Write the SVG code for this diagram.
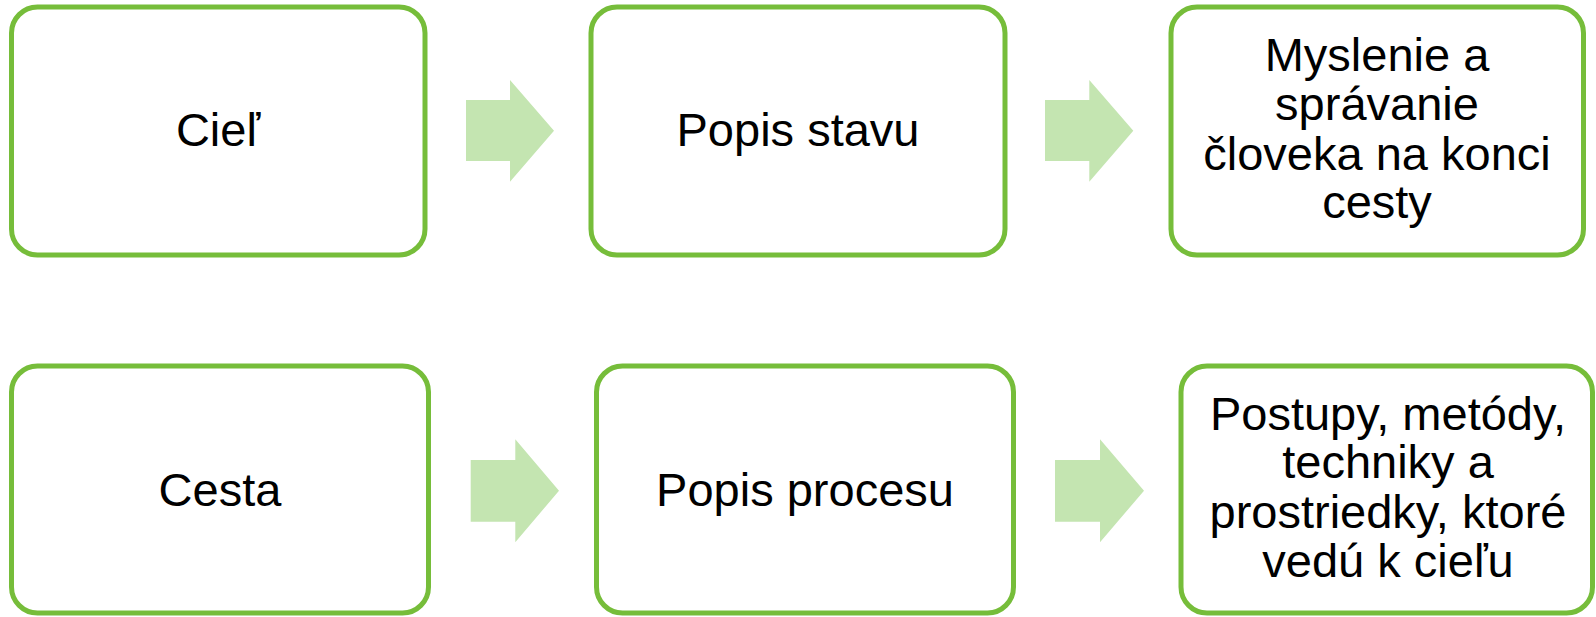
<svg xmlns="http://www.w3.org/2000/svg" width="1596" height="617" viewBox="0 0 1596 617">
<style>
.box{fill:#FFFFFF;stroke:#76BD3A;stroke-width:5}
.arr{fill:#C4E5B1}
.t{font-family:"Liberation Sans",Arial,sans-serif;font-size:47px;fill:#000000;text-anchor:middle}
</style>
<rect width="1596" height="617" fill="#FFFFFF"/>
<g id="connectors">
<polygon class="arr" points="466,100 510,100 510,80 554,130.7 510,181.7 510,161 466,161"/>
<polygon class="arr" points="1045,100 1089.3,100 1089.3,80 1133.3,130.7 1089.3,181.7 1089.3,161 1045,161"/>
<polygon class="arr" points="470.7,460 515.3,460 515.3,439.3 559,490.7 515.3,542.3 515.3,521.7 470.7,521.7"/>
<polygon class="arr" points="1055,460 1100,460 1100,439.3 1144,490.7 1100,542.3 1100,521.7 1055,521.7"/>
</g>
<g id="node-ciel">
<rect class="box" x="11.5" y="7" width="413.5" height="248" rx="26"/>
<text class="t" x="218" y="145.7">Cieľ</text>
</g>
<g id="node-popis-stavu">
<rect class="box" x="591" y="7" width="414" height="248" rx="26"/>
<text class="t" x="798" y="145.7">Popis stavu</text>
</g>
<g id="node-myslenie">
<rect class="box" x="1171" y="7" width="412.5" height="248" rx="26"/>
<text class="t" x="1377" y="71">Myslenie a</text>
<text class="t" x="1377" y="120">správanie</text>
<text class="t" x="1377" y="170">človeka na konci</text>
<text class="t" x="1377" y="218">cesty</text>
</g>
<g id="node-cesta">
<rect class="box" x="11.5" y="366" width="417" height="247" rx="26"/>
<text class="t" x="220" y="506">Cesta</text>
</g>
<g id="node-popis-procesu">
<rect class="box" x="596.5" y="366" width="417" height="247" rx="26"/>
<text class="t" x="805" y="506">Popis procesu</text>
</g>
<g id="node-postupy">
<rect class="box" x="1181" y="366" width="411.5" height="247" rx="26"/>
<text class="t" x="1388" y="430">Postupy, metódy,</text>
<text class="t" x="1388" y="478.3">techniky a</text>
<text class="t" x="1388" y="528.3">prostriedky, ktoré</text>
<text class="t" x="1388" y="576.7">vedú k cieľu</text>
</g>
</svg>
